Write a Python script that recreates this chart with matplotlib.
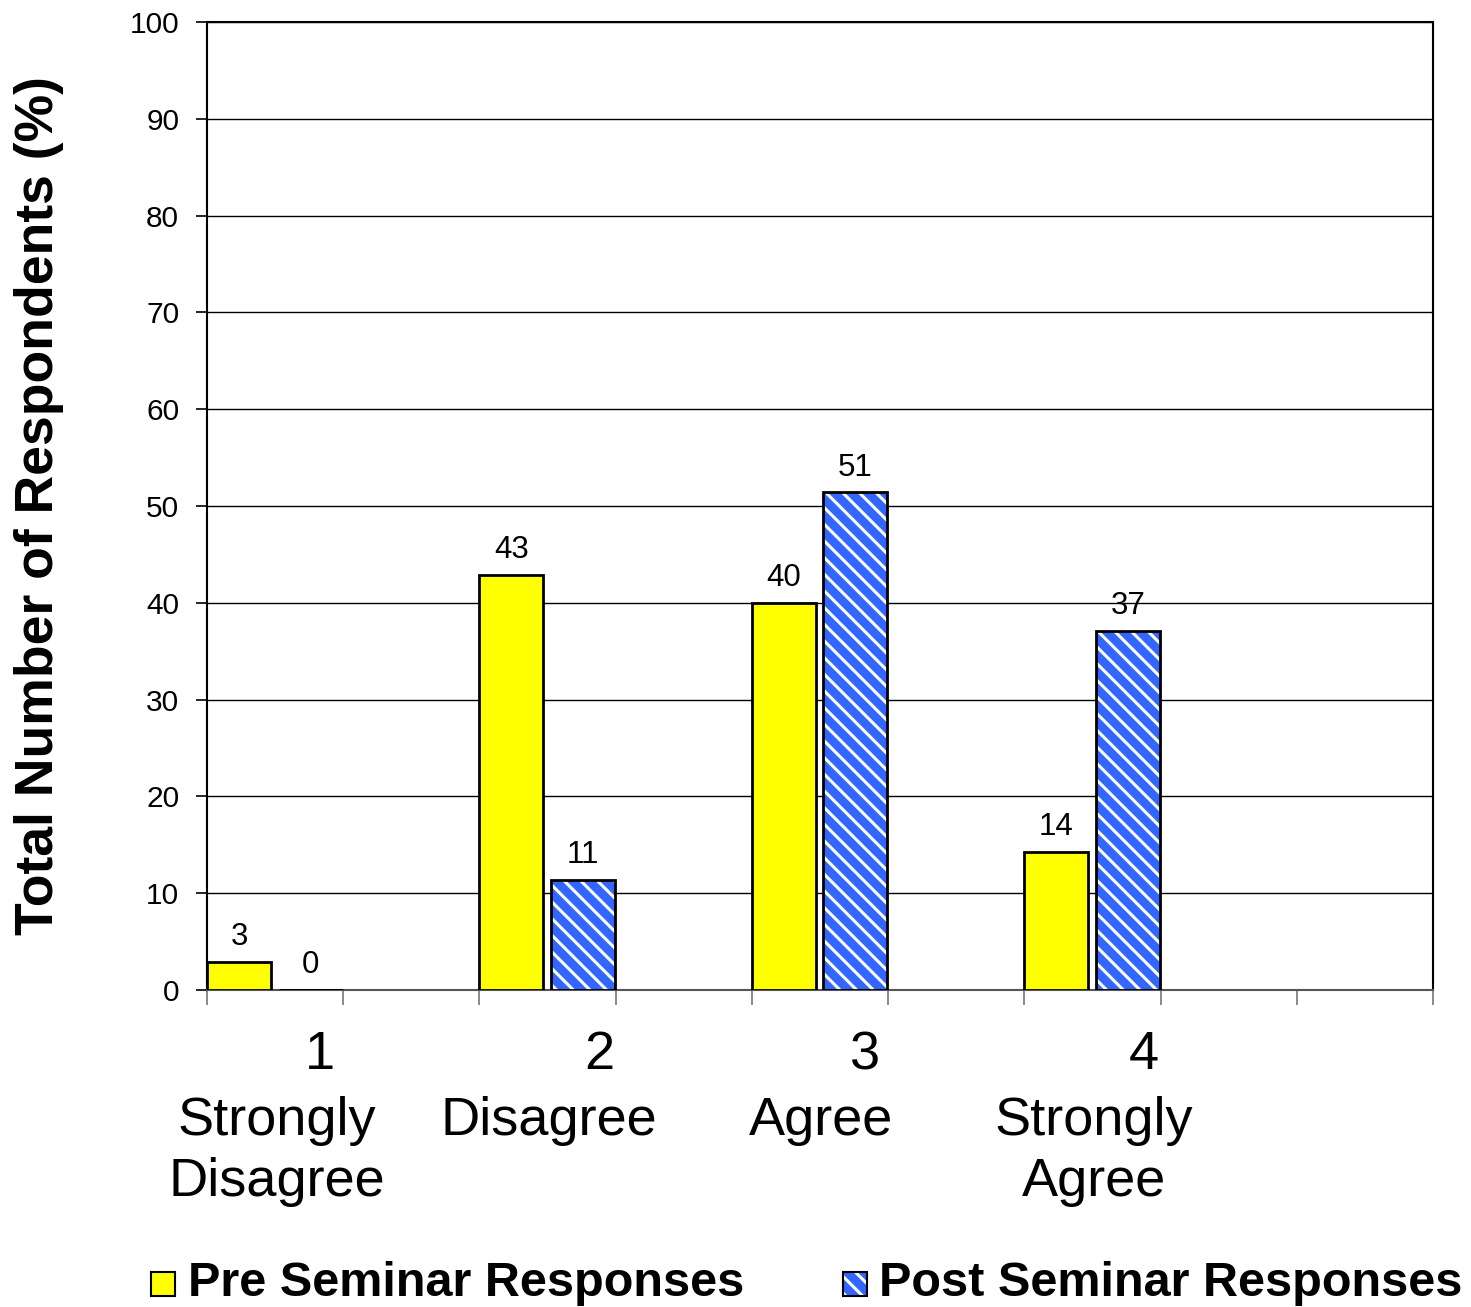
import matplotlib
matplotlib.use("Agg")
import matplotlib.pyplot as plt
import matplotlib.transforms as mtransforms
from matplotlib.patches import Rectangle

plt.rcParams['font.family'] = ['Liberation Sans', 'DejaVu Sans']
plt.rcParams['hatch.linewidth'] = 2.2

# data (percent of 35 respondents)
scale_numbers = ["1", "2", "3", "4"]
scale_names = ["Strongly\nDisagree", "Disagree", "Agree", "Strongly\nAgree"]
pre_values = [2.9, 42.9, 40.0, 14.3]
post_values = [0.0, 11.4, 51.4, 37.1]
series_names = ["Pre Seminar Responses", "Post Seminar Responses"]

fig = plt.figure(figsize=(14.71, 13.07), dpi=100)
ax = fig.add_axes([207 / 1471, 1 - 990 / 1307, 1226 / 1471, 968 / 1307])

bar_w = 0.47
group_left = [2 * i for i in range(len(pre_values))]
pre_x = [g for g in group_left]
post_x = [g + 0.525 for g in group_left]

ax.bar(pre_x, pre_values, width=bar_w, align='edge', color='#ffff00',
       edgecolor='black', linewidth=2, zorder=3)
# hatched fill, then black outline on top
ax.bar(post_x, post_values, width=bar_w, align='edge', color='#3366ff',
       edgecolor='white', hatch='\\\\', linewidth=0, zorder=3)
ax.bar(post_x, post_values, width=bar_w, align='edge', fill=False,
       edgecolor='black', linewidth=2, zorder=4)

for x, v in zip(pre_x, pre_values):
    ax.text(x + bar_w / 2, v + 1.0, f"{v:.0f}", ha='center', va='bottom', fontsize=22.5)
for x, v in zip(post_x, post_values):
    ax.text(x + bar_w / 2, v + 1.0, f"{v:.0f}", ha='center', va='bottom', fontsize=22.5)

ax.set_xlim(0, 9)
ax.set_ylim(0, 100)
ax.set_yticks(range(0, 101, 10))
ax.set_xticks(range(0, 10))
ax.set_xticklabels([])
ax.tick_params(axis='y', labelsize=21.5, length=8, width=1.2, pad=12)
ax.tick_params(axis='x', length=11, width=1.2, color='#777777')
ax.yaxis.grid(True, color='black', linewidth=1.0, zorder=0)
ax.set_axisbelow(True)
for s in ['left', 'top', 'right']:
    ax.spines[s].set_linewidth(1.5)
ax.spines['bottom'].set_color('#555555')
ax.spines['bottom'].set_linewidth(1.5)

ax.set_ylabel("Total Number of Respondents (%)", fontsize=38.5, fontweight='bold', labelpad=47)

# category labels below the axis
trans = mtransforms.blended_transform_factory(ax.transData, fig.transFigure)
num_offsets = [0.83, 0.88, 0.83, 0.88]
for g, off, num, name in zip(group_left, num_offsets, scale_numbers, scale_names):
    ax.text(g + off, 1 - 1055 / 1307, num, transform=trans, ha='center', va='center', fontsize=39)
    ax.text(g + 0.51, 1 - 1096 / 1307, name, transform=trans, ha='center', va='top',
            fontsize=39, linespacing=1.27)

# legend drawn by hand
leg_y = 1 - 1284 / 1307
box_w, box_h = 24 / 1471, 24 / 1307
fig.patches.append(Rectangle((151 / 1471, leg_y - box_h / 2), box_w, box_h, transform=fig.transFigure,
                             facecolor='#ffff00', edgecolor='black', linewidth=1.5))
fig.patches.append(Rectangle((843 / 1471, leg_y - box_h / 2), box_w, box_h, transform=fig.transFigure,
                             facecolor='#3366ff', edgecolor='white', hatch='\\\\', linewidth=0))
fig.patches.append(Rectangle((843 / 1471, leg_y - box_h / 2), box_w, box_h, transform=fig.transFigure,
                             fill=False, edgecolor='black', linewidth=1.5))
fig.text(188 / 1471, leg_y, series_names[0], ha='left', va='center', fontsize=35, fontweight='bold')
fig.text(879 / 1471, leg_y, series_names[1], ha='left', va='center', fontsize=35, fontweight='bold')

fig.savefig("out.png", dpi=100)
